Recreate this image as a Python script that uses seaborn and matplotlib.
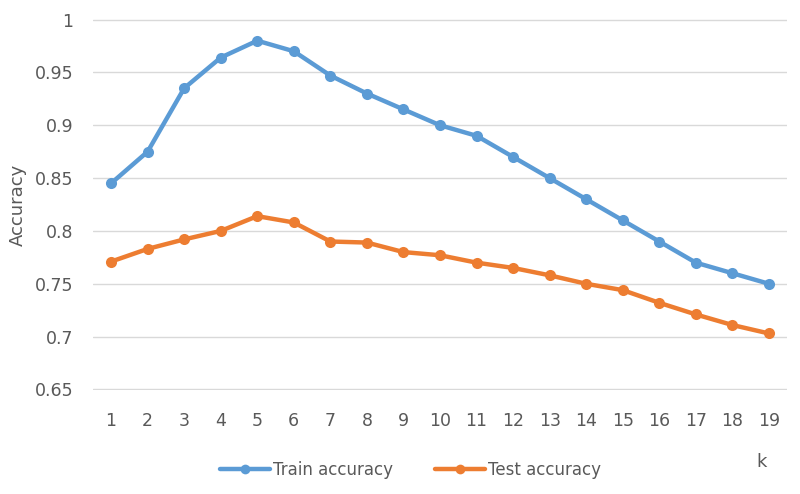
"""
Train vs test accuracy over k, redrawn with seaborn
"""
import numpy as np
import pandas as pd
import matplotlib
matplotlib.use("Agg")
import matplotlib.pyplot as plt
import seaborn as sns

# values
k_values = list(range(1, 20))
train_acc = [0.845, 0.875, 0.935, 0.964, 0.980, 0.970, 0.947, 0.930, 0.915, 0.900,
             0.890, 0.870, 0.850, 0.830, 0.810, 0.790, 0.770, 0.760, 0.750]
test_acc = [0.771, 0.783, 0.792, 0.800, 0.814, 0.808, 0.790, 0.789, 0.780, 0.777,
            0.770, 0.765, 0.758, 0.750, 0.744, 0.732, 0.721, 0.711, 0.703]
y_ticks = [0.65, 0.7, 0.75, 0.8, 0.85, 0.9, 0.95, 1]
y_tick_labels = ["0.65", "0.7", "0.75", "0.8", "0.85", "0.9", "0.95", "1"]

df = pd.DataFrame({
    "k": k_values * 2,
    "acc": train_acc + test_acc,
    "series": ["Train accuracy"] * 19 + ["Test accuracy"] * 19,
})

sns.set_style("white")
plt.rcParams["font.family"] = ["DejaVu Sans"]
grey = "#595959"

fig = plt.figure(figsize=(8, 4.94), dpi=100)
ax = fig.add_axes([0.116, 0.2105, 0.868, 0.751])

palette = {"Train accuracy": "#5B9BD5", "Test accuracy": "#ED7D31"}
sns.lineplot(data=df, x="k", y="acc", hue="series", palette=palette,
             marker="o", markersize=8, markeredgewidth=0, linewidth=3.2,
             ax=ax, legend=False)

ax.set_xlim(0.5, 19.5)
ax.set_ylim(0.6495, 1.0005)
ax.set_yticks(y_ticks)
ax.set_yticklabels(y_tick_labels)
ax.set_xticks(k_values)
ax.set_xticklabels([str(k) for k in k_values])
ax.yaxis.grid(True, color="#D9D9D9", linewidth=1)
ax.set_axisbelow(True)
for s in ax.spines.values():
    s.set_visible(False)
ax.tick_params(axis="both", length=0, colors=grey, labelsize=12.5)
ax.tick_params(axis="y", pad=14)
ax.tick_params(axis="x", pad=16)
ax.set_xlabel("")
ax.set_ylabel("Accuracy", color=grey, fontsize=13)
ax.yaxis.set_label_coords(-0.095, 0.5)

fig.text(762 / 800, 1 - 462 / 494, "k", color=grey, fontsize=13, ha="center", va="center")

handles = [plt.Line2D([], [], color=palette[n], marker="o", markersize=7,
                      markeredgewidth=0, linewidth=3.2) for n in ["Train accuracy", "Test accuracy"]]
fig.legend(handles, ["Train accuracy", "Test accuracy"], loc="center",
           bbox_to_anchor=(0.513, 1 - 470 / 494), ncol=2, frameon=False,
           fontsize=12, labelcolor=grey, handlelength=3, handletextpad=0.2,
           columnspacing=2.5)

fig.savefig("out.png", dpi=100)
